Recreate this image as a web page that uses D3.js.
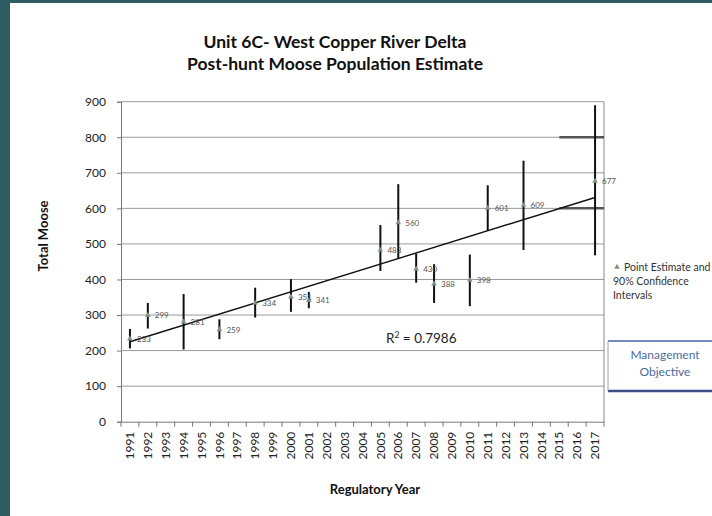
<!DOCTYPE html>
<html>
<head>
<meta charset="utf-8">
<script src="https://cdn.jsdelivr.net/npm/d3@7"></script>
<style>
  body { margin: 0; background: #fff; }
  svg { display: block; font-family: Lato, "Open Sans", sans-serif; }
</style>
</head>
<body>
<svg id="chart" width="712" height="516"></svg>
<script>
// survey years on the category axis
const years = d3.range(1991, 2018);
// point estimates and 90% confidence intervals
const surveyYears = [1991, 1992, 1994, 1996, 1998, 2000, 2001, 2005, 2006, 2007, 2008, 2010, 2011, 2013, 2017];
const estimates = [233, 299, 281, 259, 334, 351, 341, 483, 560, 430, 388, 398, 601, 609, 677];
const ciLow = [206, 262, 203, 232, 293, 309, 319, 424, 459, 391, 334, 325, 538, 483, 468];
const ciHigh = [261, 334, 359, 288, 377, 401, 365, 553, 668, 473, 443, 470, 665, 734, 890];
const yTicks = [0, 100, 200, 300, 400, 500, 600, 700, 800, 900];
const objective = [600, 800];
const objectiveFrom = 2015;

const svg = d3.select('#chart');

// slide frame
svg.append('rect').attr('x', 0).attr('y', 0).attr('width', 712).attr('height', 3).attr('fill', '#2e5e64');
svg.append('rect').attr('x', 0).attr('y', 0).attr('width', 10).attr('height', 516).attr('fill', '#2e5e64');

const m = {left: 121, right: 604, top: 101.7, bottom: 421.7};

const x = d3.scaleBand().domain(years).range([m.left, m.right]);
const y = d3.scaleLinear().domain([0, 900]).range([m.bottom, m.top]);
const cx = yr => x(yr) + x.bandwidth() / 2;

// titles
svg.append('text').attr('x', 335).attr('y', 48).attr('text-anchor', 'middle')
  .attr('font-size', 17.5).attr('font-weight', 'bold').attr('fill', '#111')
  .text('Unit 6C- West Copper River Delta');
svg.append('text').attr('x', 335).attr('y', 70).attr('text-anchor', 'middle')
  .attr('font-size', 17.5).attr('font-weight', 'bold').attr('fill', '#111')
  .text('Post-hunt Moose Population Estimate');

// gridlines
svg.append('g').selectAll('line').data(yTicks.filter(d => d > 0)).join('line')
  .attr('x1', m.left).attr('x2', m.right)
  .attr('y1', d => y(d)).attr('y2', d => y(d))
  .attr('stroke', '#9a9a9a').attr('stroke-width', 1);

// right frame edge
svg.append('line').attr('x1', m.right).attr('x2', m.right).attr('y1', m.top).attr('y2', m.bottom)
  .attr('stroke', '#8a8a8a');

// y axis
const yAxis = svg.append('g').attr('transform', `translate(${m.left},0)`)
  .call(d3.axisLeft(y).tickValues(yTicks).tickSize(4).tickPadding(11));
yAxis.select('.domain').attr('stroke', '#777');
yAxis.selectAll('.tick line').attr('stroke', '#777');
yAxis.selectAll('text').attr('font-size', 12).attr('fill', '#222').attr('font-family', 'Lato, sans-serif');

// x axis with ticks between categories
const xAxis = svg.append('g').attr('transform', `translate(0,${m.bottom})`)
  .call(d3.axisBottom(x).tickSize(0).tickPadding(0));
xAxis.select('.domain').attr('stroke', '#777');
xAxis.selectAll('text')
  .attr('transform', 'rotate(-90)')
  .attr('text-anchor', 'end')
  .attr('x', -10).attr('y', 0).attr('dy', '0.35em')
  .attr('font-size', 12).attr('fill', '#222').attr('font-family', 'Lato, sans-serif');
xAxis.append('g').selectAll('line').data(years.concat([2018])).join('line')
  .attr('x1', d => d === 2018 ? m.right : x(d)).attr('x2', d => d === 2018 ? m.right : x(d))
  .attr('y1', 0).attr('y2', 5).attr('stroke', '#777');

// management objective
svg.append('g').selectAll('line').data(objective).join('line')
  .attr('x1', cx(objectiveFrom)).attr('x2', m.right)
  .attr('y1', d => y(d)).attr('y2', d => y(d))
  .attr('stroke', '#555').attr('stroke-width', 2.5);

// linear trend (least squares, like the spreadsheet trendline)
const xs = surveyYears.map(d => d - 1991);
const mx = d3.mean(xs), my = d3.mean(estimates);
const slope = d3.sum(xs, (d, i) => (d - mx) * (estimates[i] - my)) / d3.sum(xs, d => (d - mx) * (d - mx));
const icpt = my - slope * mx;
const trendYears = [d3.min(surveyYears), d3.max(surveyYears)];
svg.append('path')
  .datum(trendYears)
  .attr('d', d3.line().x(d => cx(d)).y(d => y(icpt + slope * (d - 1991))))
  .attr('stroke', '#111').attr('stroke-width', 1.4).attr('fill', 'none');

const pts = surveyYears.map((yr, i) => ({yr, v: estimates[i], lo: ciLow[i], hi: ciHigh[i]}));

// confidence intervals
svg.append('g').selectAll('line').data(pts).join('line')
  .attr('x1', d => cx(d.yr)).attr('x2', d => cx(d.yr))
  .attr('y1', d => y(d.lo)).attr('y2', d => y(d.hi))
  .attr('stroke', '#111').attr('stroke-width', 2);

// point estimates
const tri = d3.symbol().type(d3.symbolTriangle).size(14);
svg.append('g').selectAll('path').data(pts).join('path')
  .attr('d', tri)
  .attr('transform', d => `translate(${cx(d.yr)},${y(d.v)})`)
  .attr('fill', '#7f9486');

svg.append('g').selectAll('text').data(pts).join('text')
  .attr('x', d => cx(d.yr) + 7).attr('y', d => y(d.v) + 3)
  .attr('font-size', 8).attr('fill', '#555')
  .text(d => d.v);

// R squared
svg.append('text').attr('x', 386).attr('y', 343).attr('font-size', 13.5).attr('fill', '#222')
  .html('R<tspan dy="-5" font-size="8.5">2</tspan><tspan dy="5"> = 0.7986</tspan>');

// axis titles
svg.append('text').attr('transform', 'translate(48,236) rotate(-90)').attr('text-anchor', 'middle')
  .attr('font-size', 13).attr('font-weight', 'bold').attr('fill', '#111').text('Total Moose');
svg.append('text').attr('x', 375).attr('y', 494).attr('text-anchor', 'middle')
  .attr('font-size', 13).attr('font-weight', 'bold').attr('fill', '#111').text('Regulatory Year');

// legend
svg.append('path').attr('d', tri).attr('transform', 'translate(617,267)').attr('fill', '#7f9486');
const leg = svg.append('text').attr('font-size', 10.5).attr('fill', '#333');
leg.append('tspan').attr('x', 624).attr('y', 271).text('Point Estimate and');
leg.append('tspan').attr('x', 613).attr('y', 285).text('90% Confidence');
leg.append('tspan').attr('x', 613).attr('y', 299).text('Intervals');

// management objective box
svg.append('line').attr('x1', 608).attr('x2', 712).attr('y1', 341).attr('y2', 341).attr('stroke', '#4a62a8').attr('stroke-width', 1.5);
svg.append('line').attr('x1', 608).attr('x2', 712).attr('y1', 391).attr('y2', 391).attr('stroke', '#3a4f8a').attr('stroke-width', 2.5);
svg.append('line').attr('x1', 608).attr('x2', 608).attr('y1', 341).attr('y2', 391).attr('stroke', '#9aa0b0').attr('stroke-width', 1);
svg.append('text').attr('x', 665).attr('y', 359).attr('text-anchor', 'middle').attr('font-size', 12)
  .attr('fill', '#4b6c9a').text('Management');
svg.append('text').attr('x', 665).attr('y', 376).attr('text-anchor', 'middle').attr('font-size', 12)
  .attr('fill', '#4b6c9a').text('Objective');
</script>
</body>
</html>
